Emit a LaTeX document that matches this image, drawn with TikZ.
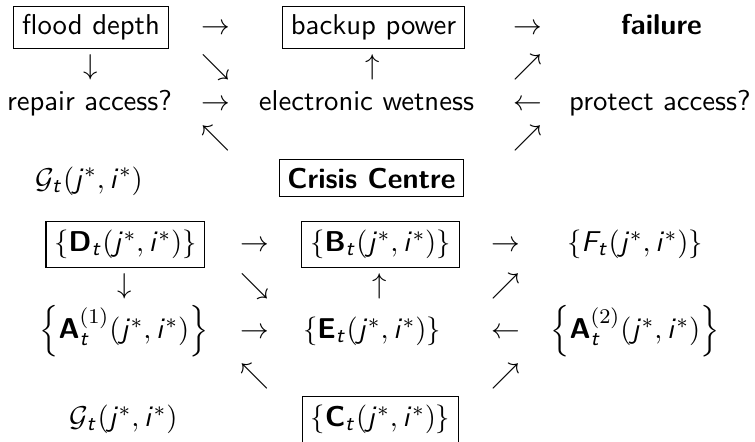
\documentclass[tikz,border=0pt,11pt]{standalone}
\usepackage{amsmath}
\DeclareMathAlphabet{\mathsi}{OT1}{cmss}{m}{sl}
\DeclareMathAlphabet{\mathsb}{OT1}{cmss}{bx}{n}
\newcommand{\jipair}{(\mathsi{j}^{*},\mathsi{i}^{*})}

\begin{document}
\begin{tikzpicture}[font=\sffamily,
    every node/.style={anchor=base, inner sep=0pt},
    framed/.style={draw, line width=0.4pt, inner sep=3.2pt}]
    \useasboundingbox (0,0) rectangle (10.128,-5.916);

    \node[framed] (depth) at (1.221,-0.469) {flood depth};
    \node (r1a) at (2.897,-0.469) {$\rightarrow$};
    \node[framed] (power) at (5.010,-0.469) {backup power};
    \node (r1b) at (7.076,-0.469) {$\rightarrow$};
    \node (fail) at (8.873,-0.469) {\bfseries failure};

    \node (r2a) at (1.221,-0.998) {$\downarrow$};
    \node (r2b) at (2.897,-0.998) {$\searrow$};
    \node (r2c) at (5.003,-0.998) {$\uparrow$};
    \node (r2d) at (7.076,-0.998) {$\nearrow$};

    \node (repair) at (1.201,-1.476) {repair access?};
    \node (r3a) at (2.897,-1.476) {$\rightarrow$};
    \node (wet) at (4.916,-1.476) {electronic wetness};
    \node (r3b) at (7.076,-1.476) {$\leftarrow$};
    \node (protect) at (8.853,-1.476) {protect access?};

    \node (r4a) at (2.897,-1.953) {$\nwarrow$};
    \node (r4b) at (7.076,-1.953) {$\nearrow$};

    \node (gup) at (1.194,-2.522) {$\mathcal{G}_{\mathsi{t}}\jipair$};
    \node[framed] (crisis) at (4.983,-2.522) {\bfseries Crisis Centre};

    \node[framed] (dset) at (1.683,-3.374) {$\{\mathsb{D}_{\mathsi{t}}\jipair\}$};
    \node (r6a) at (3.421,-3.374) {$\rightarrow$};
    \node[framed] (bset) at (5.104,-3.374) {$\{\mathsb{B}_{\mathsi{t}}\jipair\}$};
    \node (r6b) at (6.787,-3.374) {$\rightarrow$};
    \node (fset) at (8.518,-3.374) {$\{\mathsi{F}_{\mathsi{t}}\jipair\}$};

    \node (r7a) at (1.677,-3.938) {$\downarrow$};
    \node (r7b) at (3.421,-3.938) {$\searrow$};
    \node (r7c) at (5.097,-3.938) {$\uparrow$};
    \node (r7d) at (6.787,-3.938) {$\nearrow$};

    \node (aone) at (1.663,-4.541) {$\Bigl\{\mathsb{A}_{\mathsi{t}}^{(1)}\jipair\Bigr\}$};
    \node (r8a) at (3.421,-4.541) {$\rightarrow$};
    \node (eset) at (4.990,-4.541) {$\{\mathsb{E}_{\mathsi{t}}\jipair\}$};
    \node (r8b) at (6.787,-4.541) {$\leftarrow$};
    \node (atwo) at (8.518,-4.541) {$\Bigl\{\mathsb{A}_{\mathsi{t}}^{(2)}\jipair\Bigr\}$};

    \node (r9a) at (3.421,-5.141) {$\nwarrow$};
    \node (r9b) at (6.787,-5.141) {$\nearrow$};

    \node (glow) at (1.657,-5.721) {$\mathcal{G}_{\mathsi{t}}\jipair$};
    \node[framed] (cset) at (5.104,-5.721) {$\{\mathsb{C}_{\mathsi{t}}\jipair\}$};
\end{tikzpicture}
\end{document}
